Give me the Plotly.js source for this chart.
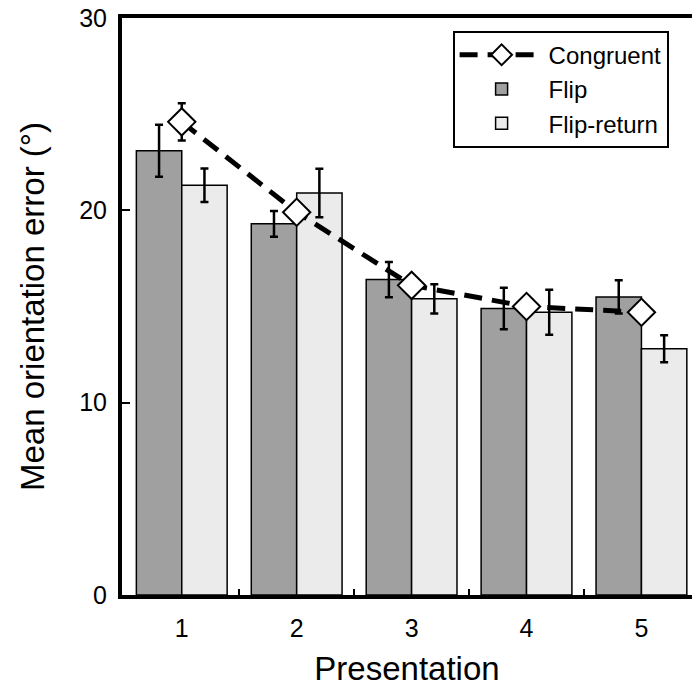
<!DOCTYPE html>
<html>
<head>
<meta charset="utf-8">
<script src="https://cdn.plot.ly/plotly-3.0.1.min.js"></script>
<style>
  html, body { margin: 0; padding: 0; background: #fff; overflow: hidden; }
</style>
</head>
<body>
<div id="graphic"></div>
<script>
// values
var presentation = [1, 2, 3, 4, 5];
var tickLabels = ['1', '2', '3', '4', '5'];

var flip = [23.1, 19.3, 16.4, 14.9, 15.5];
var flipErr = [1.35, 0.67, 0.92, 1.08, 0.87];

var flipReturn = [21.3, 20.9, 15.4, 14.7, 12.8];
var flipReturnErr = [0.87, 1.26, 0.76, 1.17, 0.7];

var congruent = [24.6, 19.9, 16.1, 15.0, 14.7];
var congruentErr = [0.97, 0.3, 0.3, 0.3, 0.3];

var font = 'Liberation Sans, Arial, Helvetica, sans-serif';

var flipTrace = {
    x: presentation,
    y: flip,
    type: 'bar',
    name: 'Flip',
    legendrank: 2,
    marker: { color: '#a0a0a0', line: { color: '#000', width: 1.5 } },
    error_y: { type: 'data', array: flipErr, visible: true, color: '#000', thickness: 2.5, width: 4 }
};

var flipReturnTrace = {
    x: presentation,
    y: flipReturn,
    type: 'bar',
    name: 'Flip-return',
    legendrank: 3,
    marker: { color: '#ebebeb', line: { color: '#000', width: 1.5 } },
    error_y: { type: 'data', array: flipReturnErr, visible: true, color: '#000', thickness: 2.5, width: 4 }
};

var congruentTrace = {
    x: presentation,
    y: congruent,
    type: 'scatter',
    mode: 'lines+markers',
    name: 'Congruent',
    legendrank: 1,
    line: { color: '#000', width: 5, dash: '18px,10px' },
    marker: { symbol: 'diamond', size: 21, color: '#fff', line: { color: '#000', width: 2 } },
    error_y: { type: 'data', array: congruentErr, visible: true, color: '#000', thickness: 2.5, width: 4 }
};

// dummy trace so the between-category tick axis is drawn
var tickTrace = {
    x: [1.5, 2.5, 3.5, 4.5],
    y: [0, 0, 0, 0],
    xaxis: 'x2',
    type: 'scatter',
    mode: 'markers',
    marker: { opacity: 0 },
    showlegend: false,
    hoverinfo: 'skip'
};

var layout = {
    width: 692,
    height: 687,
    margin: { l: 122, r: 0, t: 18, b: 92 },
    paper_bgcolor: '#fff',
    plot_bgcolor: '#fff',
    font: { family: font, size: 24, color: '#000' },
    barmode: 'group',
    bargap: 0.21,
    bargroupgap: 0,
    showlegend: true,
    legend: {
        x: 0.58, y: 0.978, xanchor: 'left', yanchor: 'top',
        bgcolor: '#fff', bordercolor: '#000', borderwidth: 2,
        font: { family: font, size: 24, color: '#000' },
        itemwidth: 84,
        tracegroupgap: 0
    },
    xaxis: {
        range: [0.48, 5.44],
        tickvals: presentation,
        ticktext: tickLabels,
        ticks: '',
        ticklabelstandoff: 8,
        showgrid: false,
        zeroline: false,
        showline: true,
        linecolor: '#000',
        linewidth: 4,
        mirror: true,
        tickfont: { family: font, size: 25 },
        title: { text: 'Presentation', font: { family: font, size: 33 }, standoff: 20 }
    },
    xaxis2: {
        overlaying: 'x',
        anchor: 'y',
        side: 'bottom',
        range: [0.48, 5.44],
        tickvals: [1.5, 2.5, 3.5, 4.5],
        ticks: 'inside',
        ticklen: 6,
        tickwidth: 2,
        tickcolor: '#000',
        showticklabels: false,
        showgrid: false,
        zeroline: false,
        showline: false
    },
    yaxis: {
        range: [0, 30],
        tickvals: [0, 10, 20, 30],
        ticks: 'inside',
        ticklen: 8,
        tickwidth: 2,
        tickcolor: '#000',
        ticklabelstandoff: 6,
        showgrid: false,
        zeroline: false,
        showline: true,
        linecolor: '#000',
        linewidth: 4,
        tickfont: { family: font, size: 25 },
        title: { text: 'Mean orientation error (°)', font: { family: font, size: 33 }, standoff: 26 }
    }
};

Plotly.newPlot(document.getElementById('graphic'),
    [flipTrace, flipReturnTrace, congruentTrace, tickTrace], layout,
    { displayModeBar: false, staticPlot: true });
</script>
</body>
</html>
